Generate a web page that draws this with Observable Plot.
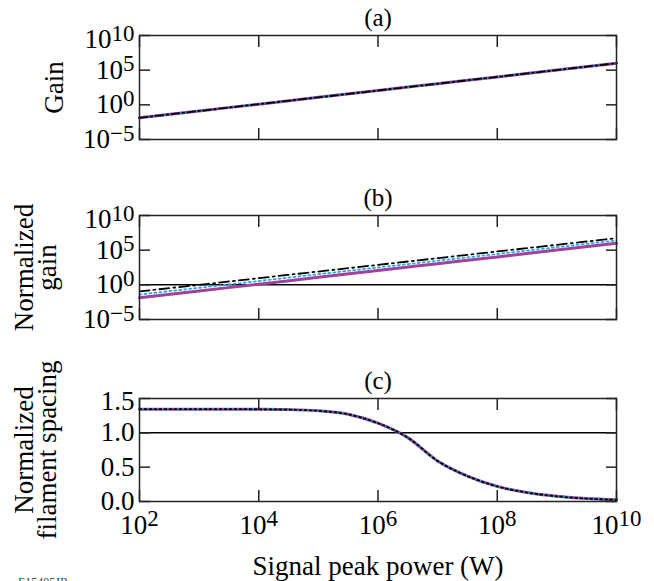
<!DOCTYPE html>
<html><head><meta charset="utf-8">
<script src="https://cdn.jsdelivr.net/npm/d3@7"></script>
<script src="https://cdn.jsdelivr.net/npm/@observablehq/plot@0.6"></script>
<style>
body{margin:0;background:#fff;}
#wrap{position:relative;width:654px;height:581px;overflow:hidden;background:#fff;font-family:'Liberation Serif',serif;}
#wrap svg{position:absolute;left:0;overflow:visible;}
#code{position:absolute;left:18px;top:575px;font-size:12px;color:#444;font-family:'Liberation Serif',serif;}
</style></head><body>
<div id="wrap"><div id="code">E15405JR</div></div>
<script>
// ---- data ----
const powerGain = [1e2, 1e3, 1e4, 1e5, 1e6, 1e7, 1e8, 1e9, 1e10];           // W
const gainPurple = [0.0135, 0.13, 1.26, 12, 117, 1120, 1.07e4, 1.05e5, 1.0e6];
const gainCyan   = [0.04, 0.37, 3.5, 34, 316, 3000, 2.8e4, 2.7e5, 2.5e6];
const gainBlack  = [0.11, 1.0, 9.1, 83, 760, 7080, 6.5e4, 5.9e5, 5.4e6];
const powerSpacing = [1e2, 3.16e2, 1e3, 3.16e3, 1e4, 3.16e4, 1e5, 3.16e5, 1e6, 3.16e6, 1e7, 3.16e7, 1e8, 3.16e8, 1e9, 3.16e9, 1e10];
const spacing = [1.345, 1.345, 1.345, 1.345, 1.343, 1.338, 1.32, 1.27, 1.14, 0.93, 0.59, 0.37, 0.22, 0.13, 0.075, 0.042, 0.024];
const xTicks = [1e2, 1e4, 1e6, 1e8, 1e10];
const xTickLabels = ["10^2", "10^4", "10^6", "10^8", "10^10"];
const gainTicks = [1e-5, 1, 1e5, 1e10];
const gainTickLabels = ["10^\u22125", "10^0", "10^5", "10^10"];
const spacingTicks = [0, 0.5, 1.0, 1.5];
const spacingTickLabels = ["0.0", "0.5", "1.0", "1.5"];
const titles = ["(a)", "(b)", "(c)"];
const yLabels = ["Gain", "Normalized\ngain", "Normalized\nfilament spacing"];
const xLabel = "Signal peak power (W)";

const PURPLE = "#9e429e", CYAN = "#2aa6de", BLACK = "#000";
const FONT = "'Liberation Serif', serif";
const rows = (xs, ys) => xs.map((x, i) => ({x, y: ys[i]}));

function supify(svg) {
  const ns = "http://www.w3.org/2000/svg";
  svg.querySelectorAll("text").forEach(t => {
    const s = t.textContent, i = s.indexOf("^");
    if (i < 0) return;
    t.textContent = "";
    const a = document.createElementNS(ns, "tspan"); a.textContent = s.slice(0, i); t.appendChild(a);
    const b = document.createElementNS(ns, "tspan"); b.textContent = s.slice(i + 1);
    b.setAttribute("dy", "-0.32em"); b.setAttribute("font-size", "0.85em"); t.appendChild(b);
  });
}

function panel({top, height, marginBottom, yScale, yTicks, yTickLabels, topShift, lines, ref, title, ylabel, ylabelDx, showX}) {
  const fmtY = d => yTickLabels[yTicks.indexOf(d)];
  const fmtX = d => xTickLabels[xTicks.indexOf(d)];
  const blank = () => "";
  const marks = [];
  if (ref !== undefined) marks.push(Plot.ruleY([ref], {stroke: "#000", strokeWidth: 1.5}));
  for (const l of lines) marks.push(Plot.line(l.data, {x: "x", y: "y", stroke: l.stroke, strokeWidth: l.width, strokeDasharray: l.dash, curve: "monotone-x"}));
  marks.push(
    Plot.frame({stroke: "#222", strokeWidth: 1.5}),
    Plot.axisY(yTicks, {anchor: "left", tickSize: -11, tickFormat: blank, label: null, stroke: "#222", strokeWidth: 1.5}),
    Plot.axisY(yTicks, {anchor: "right", tickSize: -11, tickFormat: blank, label: null, stroke: "#222", strokeWidth: 1.5}),
    Plot.axisY(yTicks.slice(0, -1), {anchor: "left", tickSize: 0, tickPadding: 5, tickFormat: fmtY, label: null, fontSize: 27}),
    Plot.axisY(yTicks.slice(-1), {anchor: "left", tickSize: 0, tickPadding: 5, dy: topShift, tickFormat: fmtY, label: null, fontSize: 27}),
    Plot.axisX(xTicks, {anchor: "bottom", tickSize: -11, tickFormat: blank, label: null, stroke: "#222", strokeWidth: 1.5}),
    Plot.axisX(xTicks, {anchor: "top", tickSize: -11, tickFormat: blank, label: null, stroke: "#222", strokeWidth: 1.5}),
    Plot.text([title], {frameAnchor: "top", dy: -18, lineAnchor: "middle", textAnchor: "middle", fontSize: 25}),
    Plot.text([ylabel], {frameAnchor: "left", rotate: -90, dx: ylabelDx, lineAnchor: "middle", textAnchor: "middle", lineHeight: 0.85, fontSize: 27})
  );
  if (showX) {
    marks.push(
      Plot.axisX(xTicks, {anchor: "bottom", tickSize: 0, tickPadding: 13, tickFormat: fmtX, label: null, fontSize: 27}),
      Plot.text([xLabel], {frameAnchor: "bottom", dy: 65, lineAnchor: "middle", textAnchor: "middle", fontSize: 27})
    );
  }
  const svg = Plot.plot({
    width: 654, height,
    marginTop: 35, marginBottom, marginLeft: 139, marginRight: 38,
    style: {fontFamily: FONT, fontSize: "27px", color: "#000", background: "transparent", overflow: "visible"},
    x: {type: "log", domain: [1e2, 1e10]},
    y: yScale,
    marks
  });
  supify(svg);
  svg.style.top = top + "px";
  document.getElementById("wrap").appendChild(svg);
}

const gainScale = {type: "log", domain: [1e-5, 1e10]};

panel({
  top: 0, height: 160, marginBottom: 21, yScale: gainScale, yTicks: gainTicks, yTickLabels: gainTickLabels, topShift: 4,
  lines: [
    {data: rows(powerGain, gainPurple), stroke: PURPLE, width: 3},
    {data: rows(powerGain, gainPurple), stroke: CYAN, width: 1.8, dash: "2,3"},
    {data: rows(powerGain, gainPurple), stroke: BLACK, width: 1.8, dash: "8,3,2,3"}
  ],
  title: titles[0], ylabel: yLabels[0], ylabelDx: -84, showX: false
});

panel({
  top: 180, height: 160, marginBottom: 21, yScale: gainScale, yTicks: gainTicks, yTickLabels: gainTickLabels, topShift: 4,
  lines: [
    {data: rows(powerGain, gainPurple), stroke: PURPLE, width: 3},
    {data: rows(powerGain, gainCyan), stroke: CYAN, width: 1.8, dash: "2,3"},
    {data: rows(powerGain, gainBlack), stroke: BLACK, width: 1.8, dash: "10,4,2,4"}
  ],
  ref: 1, title: titles[1], ylabel: yLabels[1], ylabelDx: -102, showX: false
});

panel({
  top: 363, height: 218, marginBottom: 80, yScale: {type: "linear", domain: [0, 1.5]}, yTicks: spacingTicks, yTickLabels: spacingTickLabels, topShift: 3,
  lines: [
    {data: rows(powerSpacing, spacing), stroke: PURPLE, width: 3},
    {data: rows(powerSpacing, spacing), stroke: CYAN, width: 1.8, dash: "4,3"},
    {data: rows(powerSpacing, spacing), stroke: BLACK, width: 1.8, dash: "2,3"}
  ],
  ref: 1, title: titles[2], ylabel: yLabels[2], ylabelDx: -102, showX: true
});
</script>
</body></html>
